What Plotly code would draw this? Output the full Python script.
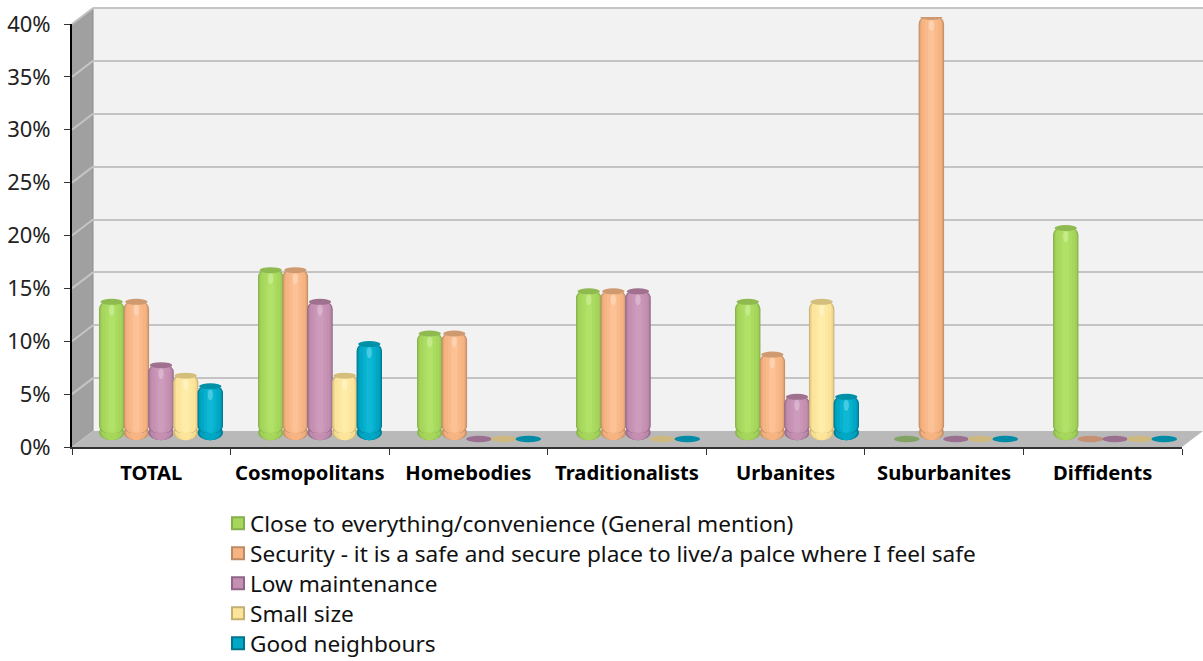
import plotly.graph_objects as go

categories = ["TOTAL", "Cosmopolitans", "Homebodies", "Traditionalists", "Urbanites", "Suburbanites", "Diffidents"]
close_to_everything = [13, 16, 10, 14, 13, 0, 20]
security = [13, 16, 10, 14, 8, 40, 0]
low_maintenance = [7, 13, 0, 14, 4, 0, 0]
small_size = [6, 6, 0, 0, 13, 0, 0]
good_neighbours = [5, 9, 0, 0, 4, 0, 0]
series_names = [
    "Close to everything/convenience (General mention)",
    "Security - it is a safe and secure place to live/a palce where I feel safe",
    "Low maintenance",
    "Small size",
    "Good neighbours",
]
series_values = [close_to_everything, security, low_maintenance, small_size, good_neighbours]
y_ticks = [0, 5, 10, 15, 20, 25, 30, 35, 40]
y_tick_labels = ["0%", "5%", "10%", "15%", "20%", "25%", "30%", "35%", "40%"]

edge_colors = ["#86AE4C", "#BE8A63", "#8F6688", "#C4AF72", "#00748C"]
body_colors = ["#A6D65C", "#F7B483", "#C48FB0", "#FCE49A", "#00A8C6"]
glow_colors = ["#B9EA70", "#FFCAA0", "#D4A4C4", "#FFF2B4", "#18C4E0"]
cap_colors = ["#8FBA50", "#D09A70", "#A0708F", "#D4BE7C", "#0090A8"]
flat_colors = ["#82A364", "#C59172", "#9A6F8F", "#CDB87F", "#008BA6"]

W, H = 1203, 661
BAR_W = 0.16
BAR_STEP = 0.155
GROUP_LEFT = -0.39
PX_PER_PCT = 10.55
LIFT = 0.6


def px(x):
    return x / W


def py(y):
    return 1 - y / H


def mix(a, b, t):
    ca = [int(a[i:i + 2], 16) for i in (1, 3, 5)]
    cb = [int(b[i:i + 2], 16) for i in (1, 3, 5)]
    return "#" + "".join(f"{round(u + (v - u) * t):02x}" for u, v in zip(ca, cb))


def poly(pts, fill):
    d = "M" + " L".join(f"{px(x)},{py(y)}" for x, y in pts) + " Z"
    return dict(type="path", path=d, xref="paper", yref="paper", fillcolor=fill,
                line=dict(width=0), layer="below")


def pline(x0, y0, x1, y1, color, width):
    return dict(type="line", xref="paper", yref="paper", x0=px(x0), y0=py(y0), x1=px(x1), y1=py(y1),
                line=dict(color=color, width=width), layer="below")


shapes = [
    poly([(93, 8), (1203, 8), (1203, 431), (93, 431)], "#F2F2F2"),
    poly([(72, 24), (93, 8), (93, 431), (72, 447)], "#A0A0A0"),
    poly([(72, 447), (93, 431), (1203, 431), (1182, 447)], "#B9B9B9"),
    pline(93, 8, 93, 431, "#8C8C8C", 1),
    pline(93, 8, 1203, 8, "#C4C4C4", 2),
]
for t in y_ticks[1:]:
    yb = 431 - t * 10.575
    yf = 447 - t * 10.575
    shapes.append(pline(72, yf, 93, yb, "#C4C4C4", 2))

fig = go.Figure()

# Back-wall grid
fig.add_trace(go.Scatter(x=categories, y=[None] * 7, xaxis="x", yaxis="y", showlegend=False, hoverinfo="skip"))
# Front axes
fig.add_trace(go.Scatter(x=categories, y=[None] * 7, xaxis="x2", yaxis="y2", showlegend=False, hoverinfo="skip"))

layers = [(1.0, 0.0), (0.95, 0.4), (0.88, 0.8), (0.76, 1.0), (0.5, 1.2), (0.26, 1.4)]
for s, (name, vals) in enumerate(zip(series_names, series_values)):
    left = GROUP_LEFT + s * BAR_STEP
    heights = [max(v - LIFT, 0) for v in vals]
    bases = [LIFT if v > 0 else 0 for v in vals]
    # legend entry
    fig.add_trace(go.Bar(
        x=categories, y=[None] * 7, xaxis="x3", yaxis="y3", name=name, showlegend=True,
        marker=dict(color=body_colors[s], line=dict(color=edge_colors[s], width=2)), hoverinfo="skip",
    ))
    for k, (frac, t) in enumerate(layers):
        if t <= 1:
            col = mix(edge_colors[s], body_colors[s], t)
        else:
            col = mix(body_colors[s], glow_colors[s], (t - 1) / 0.7)
        w = BAR_W * frac
        fig.add_trace(go.Bar(
            x=categories, y=heights, base=bases, xaxis="x3", yaxis="y3",
            name=name, showlegend=False,
            width=w, offset=left + (BAR_W - w) / 2,
            marker=dict(color=col, line=dict(width=0), cornerradius=7 if k < 3 else 5),
            hoverinfo="skip",
        ))
    for c, v in enumerate(vals):
        cx = c + left + BAR_W / 2
        half_w = BAR_W * 0.5
        if v == 0:
            shapes.append(dict(type="circle", xref="x3", yref="y3", layer="above",
                               x0=cx - half_w, x1=cx + half_w,
                               y0=v - 3.2 / PX_PER_PCT, y1=v + 3.2 / PX_PER_PCT,
                               fillcolor=flat_colors[s], line=dict(width=0)))
            continue
        # rounded foot, shaded in nested ellipses, beneath the bar
        for frac, t in ((1.0, 0.25), (0.84, 0.85), (0.5, 1.0)):
            shapes.append(dict(type="circle", xref="x3", yref="y3", layer="below",
                               x0=cx - half_w * frac, x1=cx + half_w * frac,
                               y0=-0.12, y1=LIFT + 8 / PX_PER_PCT,
                               fillcolor=mix(edge_colors[s], body_colors[s], t), line=dict(width=0)))
        # top cap
        shapes.append(dict(type="circle", xref="x3", yref="y3", layer="above",
                           x0=cx - half_w * 0.88, x1=cx + half_w * 0.88,
                           y0=v - 3 / PX_PER_PCT, y1=v + 3 / PX_PER_PCT,
                           fillcolor=cap_colors[s], line=dict(width=0)))
        # highlight under the cap
        shapes.append(dict(type="circle", xref="x3", yref="y3", layer="above",
                           x0=cx - half_w * 0.2, x1=cx + half_w * 0.2,
                           y0=v - 14 / PX_PER_PCT, y1=v - 3 / PX_PER_PCT,
                           fillcolor=mix(glow_colors[s], "#FFFFFF", 0.4), opacity=0.55, line=dict(width=0)))

fig.update_layout(
    width=W, height=H, autosize=False,
    margin=dict(l=0, r=0, t=0, b=0, pad=0, autoexpand=False),
    paper_bgcolor="#FFFFFF", plot_bgcolor="rgba(0,0,0,0)",
    barmode="overlay", shapes=shapes, showlegend=True,
    font=dict(family="Noto Sans", color="#111111"),
    legend=dict(x=px(210), y=py(502), xanchor="left", yanchor="top",
                bgcolor="rgba(0,0,0,0)", itemclick=False, itemdoubleclick=False,
                font=dict(family="Noto Sans", size=22.6, color="#111111"), traceorder="normal"),
    xaxis=dict(domain=[px(93), 1.0], type="category", categoryorder="array", categoryarray=categories,
               range=[-0.5, 6.5], showticklabels=False, ticks="", showgrid=False, zeroline=False, showline=False, anchor="y"),
    yaxis=dict(domain=[py(431), py(8)], range=[0, 40], tickvals=y_ticks, showticklabels=False, ticks="",
               showgrid=True, gridcolor="#C4C4C4", gridwidth=2, zeroline=False, showline=False, anchor="x"),
    xaxis2=dict(domain=[px(72), px(1182)], type="category", categoryorder="array", categoryarray=categories,
                range=[-0.5, 6.5], anchor="y2", tickson="boundaries", ticks="outside", ticklen=6,
                tickwidth=1, tickcolor="#333333", showline=True, linecolor="#333333", linewidth=2, showgrid=False,
                ticklabelstandoff=7, tickangle=0,
                tickfont=dict(family="Noto Sans", size=20.2, color="#000000", weight="bold"), zeroline=False),
    yaxis2=dict(domain=[py(447), py(24)], range=[0, 40], anchor="x2", tickvals=y_ticks,
                ticktext=y_tick_labels, ticks="outside", ticklen=6, tickwidth=1, tickcolor="#333333",
                showline=True, linecolor="#000000", linewidth=2, showgrid=False, zeroline=False,
                ticklabelstandoff=9,
                tickfont=dict(family="Noto Sans", size=22, color="#222222")),
    xaxis3=dict(domain=[px(81.5), px(1194.5)], type="category", categoryorder="array", categoryarray=categories,
                range=[-0.5, 6.5], anchor="y3", visible=False),
    yaxis3=dict(domain=[py(439 + PX_PER_PCT), py(17)], range=[-1, 40], anchor="x3", visible=False),
)

post = """
document.body.style.margin='0';document.body.style.overflow='hidden';
document.querySelectorAll('.legend .legendpoints').forEach(function(g){g.setAttribute('transform','translate(8,0)');});
var first=null;
document.querySelectorAll('.legend .traces').forEach(function(g,i){
  var m=/translate\\(([^,]+),\\s*([^)]+)\\)/.exec(g.getAttribute('transform'));
  if(!m)return;
  if(first===null)first=parseFloat(m[2]);
  g.setAttribute('transform','translate('+m[1]+','+(first+i*30)+')');
});
"""
fig.write_html("out.html", post_script=post, config={"displayModeBar": False})
